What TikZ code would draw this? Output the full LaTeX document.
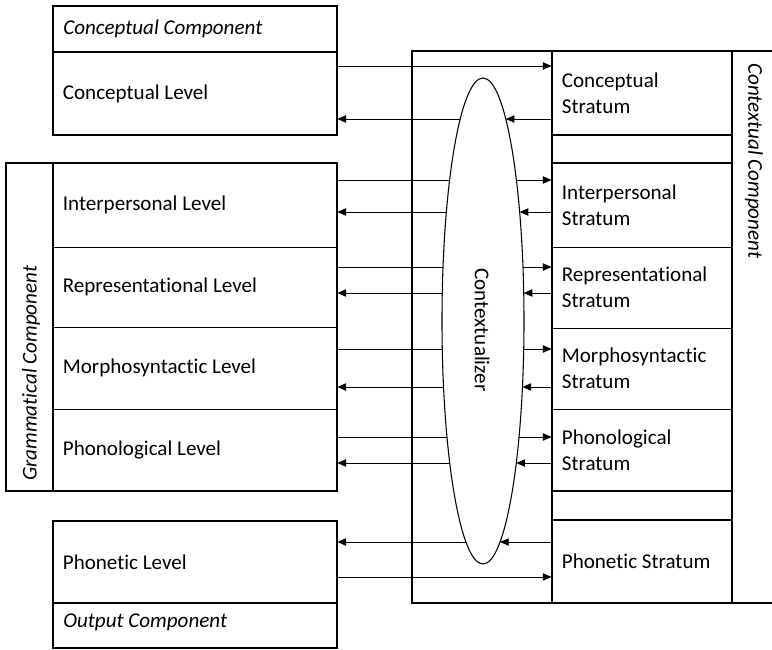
\documentclass[tikz,border=0pt]{standalone}
\usepackage{fontspec}
\setmainfont{Carlito}[Ligatures=CommonOff]
\usetikzlibrary{arrows.meta,shapes.geometric,fit,positioning}
\tikzset{
  lvlbox/.style={draw, line width=0.6pt, inner sep=0pt, fit={#1}},
  thickline/.style={line width=1.5pt},
  arr/.style={line width=0.7pt, -{Triangle[length=6.5pt,width=5.5pt]}},
  lin/.style={line width=0.7pt},
  txt/.style={inner sep=0pt, align=left},
  comptext/.style={inner sep=0pt, font=\fontsize{15.8}{19.5}\selectfont\itshape},
}
\begin{document}
\begin{tikzpicture}
[x=0.75pt, y=-0.75pt, font=\fontsize{15.8}{19.5}\selectfont]
\useasboundingbox (0,0) rectangle (772,650);
%________________________________________________%
% levels
\node[lvlbox={(53,52) (337,135)}] (cl) {};
\node[txt, right=7.5pt of cl.west] (cl-t) {Conceptual Level};
\foreach \n/\ya/\yb/\nm in {il/163/247/Interpersonal, rl/247/327/Representational, ml/327/409/Morphosyntactic, pl/409/491/Phonological}{
  \node[lvlbox={(53,\ya) (337,\yb)}] (\n) {};
  \node[txt, right=7.5pt of \n.west] (\n-t) {\nm\ Level};
}
\node[lvlbox={(53,521) (337,603)}] (phl) {};
\node[txt, right=7.5pt of phl.west] (phl-t) {Phonetic Level};
%________________________________________________%
% strata
\foreach \n/\ya/\yb/\nm in {cs/51/135/Conceptual, is/163/247/Interpersonal, rs/247/328/Representational, ms/328/409/Morphosyntactic, ps/409/491/Phonological}{
  \node[lvlbox={(552,\ya) (732,\yb)}] (\n) {};
  \node[txt, right=7.5pt of \n.west] (\n-t) {\nm\\Stratum};
}
\node[lvlbox={(552,520) (732,603)}] (phs) {};
\node[txt, right=7.5pt of phs.west] (phs-t) {Phonetic Stratum};
%________________________________________________%
% component frames
\draw[thickline] (53,6) rectangle (337,135) (53,52) -- (337,52);
\draw[thickline] (6,163) rectangle (337,491) (53,163) -- (53,491);
\draw[thickline] (53,521) rectangle (337,648) (53,603) -- (337,603);
\draw[thickline] (772,51) -- (412,51) -- (412,603) -- (772,603);
\draw[thickline] (552,51) rectangle (732,603)
  (552,135) -- (732,135) (552,163) -- (732,163)
  (552,491) -- (732,491) (552,520) -- (732,520);
\node[comptext, anchor=west] (cc) at (63,29) {Conceptual Component};
\node[comptext, anchor=west] (oc) at (63,622) {Output Component};
\node[comptext, anchor=west, rotate=90] (gc) at (31,481) {Grammatical Component};
\node[comptext, anchor=west, rotate=-90] (xc) at (754,63) {Contextual Component};
%________________________________________________%
% contextualizer
\node[draw, ellipse, line width=0.8pt, minimum width=61.5pt, minimum height=364.5pt, inner sep=0pt] (ctx) at (483,321) {};
\node[rotate=-90, inner sep=0pt] (ctx-t) at (482,330) {Contextualizer};
%________________________________________________%
% arrows
\draw[arr] (cl.east |- 0,66) -- (cs.west |- 0,66);
\draw[arr] (phl.east |- 0,577) -- (phs.west |- 0,577);
\foreach \l/\s/\y in {il/is/180, rl/rs/267, ml/ms/349, pl/ps/437}{
  \pgfmathsetmacro\dx{41*sqrt(1-((\y-321)/243)^2)}
  \draw[lin] (\l.east |- 0,\y) -- ({483-\dx},\y);
  \draw[arr] ({483+\dx},\y) -- (\s.west |- 0,\y);
}
\foreach \l/\s/\y in {cl/cs/119, il/is/212, rl/rs/293, ml/ms/387, pl/ps/463, phl/phs/542}{
  \pgfmathsetmacro\dx{41*sqrt(1-((\y-321)/243)^2)}
  \draw[arr] (\s.west |- 0,\y) -- ({483+\dx},\y);
  \draw[arr] ({483-\dx},\y) -- (\l.east |- 0,\y);
}
\end{tikzpicture}
\end{document}
